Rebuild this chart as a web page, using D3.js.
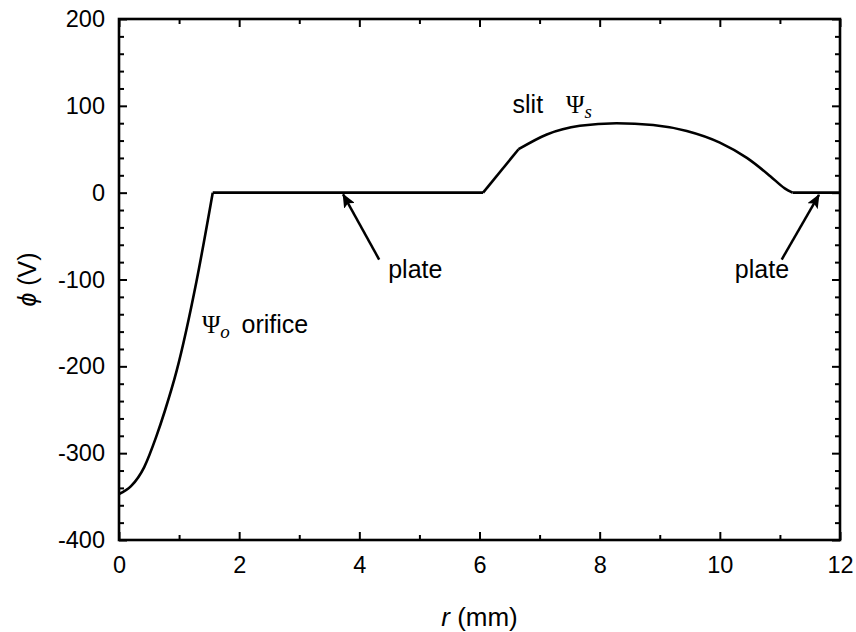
<!DOCTYPE html>
<html>
<head>
<meta charset="utf-8">
<script src="https://cdn.jsdelivr.net/npm/d3@7"></script>
<style>
  body { margin: 0; background: #fff; }
  svg { display: block; font-family: "Liberation Sans", Arial, sans-serif; }
  .tick text { font-size: 23.5px; fill: #000; }
  .tick line { stroke: #000; stroke-width: 2; }
  .label { font-size: 25px; }
  .greek { font-family: "Liberation Serif", "Times New Roman", serif; }
</style>
</head>
<body>
<div id="chart"></div>
<script>
// potential profile phi(r)
const rOrifice = [0, 0.2, 0.42, 0.62, 0.76, 0.96, 1.29, 1.56];
const phiOrifice = [-347, -338, -316, -281, -252, -205, -102, 0];

const rPlate = [1.56, 6.06];
const phiPlate = [0, 0];

const rRamp = [6.06, 6.65];
const phiRamp = [0, 50];

const rSlit = [6.65, 7.12, 7.67, 8.28, 8.89, 9.45, 10.0, 10.45, 10.84, 11.08, 11.21];
const phiSlit = [50, 67, 77, 80, 78, 71, 57.6, 40, 19, 5, 0];

const rOuter = [11.21, 12];
const phiOuter = [0, 0];

const xTicks = [0, 2, 4, 6, 8, 10, 12];
const yTicks = [-400, -300, -200, -100, 0, 100, 200];

// annotation arrows (data coordinates)
const arrowFrom = [[4.33, -77], [11.03, -77]];
const arrowTo = [[3.73, -2], [11.65, -2.6]];

const margin = { top: 19, right: 16, bottom: 92, left: 119 };
const W = 856, H = 632;
const width = W - margin.left - margin.right;
const height = H - margin.top - margin.bottom;

const svg = d3.select("#chart")
  .append("svg")
  .attr("width", W)
  .attr("height", H);

svg.append("defs").append("marker")
  .attr("id", "head")
  .attr("markerUnits", "userSpaceOnUse")
  .attr("viewBox", "0 0 14 12")
  .attr("refX", 13)
  .attr("refY", 6)
  .attr("markerWidth", 14)
  .attr("markerHeight", 12)
  .attr("orient", "auto")
  .append("path")
  .attr("d", "M0,0 L14,6 L0,12 L3,6 Z")
  .attr("fill", "#000");

const g = svg.append("g")
  .attr("transform", `translate(${margin.left},${margin.top})`);

const x = d3.scaleLinear().domain([0, 12]).range([0, width]);
const y = d3.scaleLinear().domain([-400, 200]).range([height, 0]);

const xMinor = d3.range(0, 12.01, 1).filter(v => v % 2 !== 0);
const yMinor = d3.range(-400, 200.01, 20).filter(v => v % 100 !== 0);

// major ticks with labels (bottom, left)
g.append("g")
  .attr("transform", `translate(0,${height})`)
  .call(d3.axisBottom(x).tickValues(xTicks).tickFormat(d => String(d)).tickSize(-8).tickPadding(16))
  .call(a => a.select(".domain").remove());

g.append("g")
  .call(d3.axisLeft(y).tickValues(yTicks).tickFormat(d => String(d)).tickSize(-8).tickPadding(14))
  .call(a => a.select(".domain").remove());

// minor ticks and mirrored ticks
function bare(axis) {
  return a => { a.call(axis); a.select(".domain").remove(); a.selectAll("text").remove(); };
}
g.append("g").attr("transform", `translate(0,${height})`)
  .call(bare(d3.axisBottom(x).tickValues(xMinor).tickSize(-5)));
g.append("g")
  .call(bare(d3.axisLeft(y).tickValues(yMinor).tickSize(-5)));
g.append("g")
  .call(bare(d3.axisTop(x).tickValues(xTicks).tickSize(-8)));
g.append("g")
  .call(bare(d3.axisTop(x).tickValues(xMinor).tickSize(-5)));
g.append("g").attr("transform", `translate(${width},0)`)
  .call(bare(d3.axisRight(y).tickValues(yTicks).tickSize(-8)));
g.append("g").attr("transform", `translate(${width},0)`)
  .call(bare(d3.axisRight(y).tickValues(yMinor).tickSize(-5)));

// frame
g.append("rect")
  .attr("width", width)
  .attr("height", height)
  .attr("fill", "none")
  .attr("stroke", "#000")
  .attr("stroke-width", 2.6);

// curve pieces
const pieces = [
  [rOrifice, phiOrifice, d3.curveMonotoneX],
  [rPlate, phiPlate, d3.curveLinear],
  [rRamp, phiRamp, d3.curveLinear],
  [rSlit, phiSlit, d3.curveMonotoneX],
  [rOuter, phiOuter, d3.curveLinear]
];
pieces.forEach(([rs, ps, curve]) => {
  const line = d3.line()
    .x(d => x(d))
    .y((d, i) => y(ps[i]))
    .curve(curve);
  g.append("path")
    .attr("d", line(rs))
    .attr("fill", "none")
    .attr("stroke", "#000")
    .attr("stroke-width", 2.6)
    .attr("stroke-linejoin", "round");
});

// arrows
arrowFrom.forEach((f, i) => {
  g.append("line")
    .attr("x1", x(f[0])).attr("y1", y(f[1]))
    .attr("x2", x(arrowTo[i][0])).attr("y2", y(arrowTo[i][1]))
    .attr("stroke", "#000")
    .attr("stroke-width", 2.5)
    .attr("marker-end", "url(#head)");
});

// labels
g.append("text").attr("class", "label")
  .attr("x", x(4.48)).attr("y", y(-98)).text("plate");
g.append("text").attr("class", "label")
  .attr("x", x(10.25)).attr("y", y(-98)).text("plate");

const orifice = g.append("text").attr("class", "label")
  .attr("x", x(1.38)).attr("y", y(-162));
orifice.append("tspan").attr("class", "greek").attr("font-size", 25).text("Ψ");
orifice.append("tspan").attr("class", "greek").attr("font-style", "italic")
  .attr("font-size", 19).attr("dy", 5).text("o");
orifice.append("tspan").attr("x", x(2.04)).attr("dy", -5).text("orifice");

const slit = g.append("text").attr("class", "label")
  .attr("x", x(6.55)).attr("y", y(92));
slit.append("tspan").text("slit");
slit.append("tspan").attr("class", "greek").attr("font-size", 25).attr("x", x(7.44)).text("Ψ");
slit.append("tspan").attr("class", "greek").attr("font-style", "italic")
  .attr("font-size", 19).attr("dy", 5).text("s");

// axis titles
const xt = svg.append("text")
  .attr("x", margin.left + width / 2)
  .attr("y", 626)
  .attr("text-anchor", "middle")
  .attr("font-size", 26);
xt.append("tspan").attr("font-style", "italic").text("r");
xt.append("tspan").text(" (mm)");

const yt = svg.append("text")
  .attr("transform", `translate(36,${margin.top + y(-100)}) rotate(-90)`)
  .attr("text-anchor", "middle")
  .attr("font-size", 25);
yt.append("tspan").attr("font-style", "italic").text("ϕ");
yt.append("tspan").text(" (V)");
</script>
</body>
</html>
